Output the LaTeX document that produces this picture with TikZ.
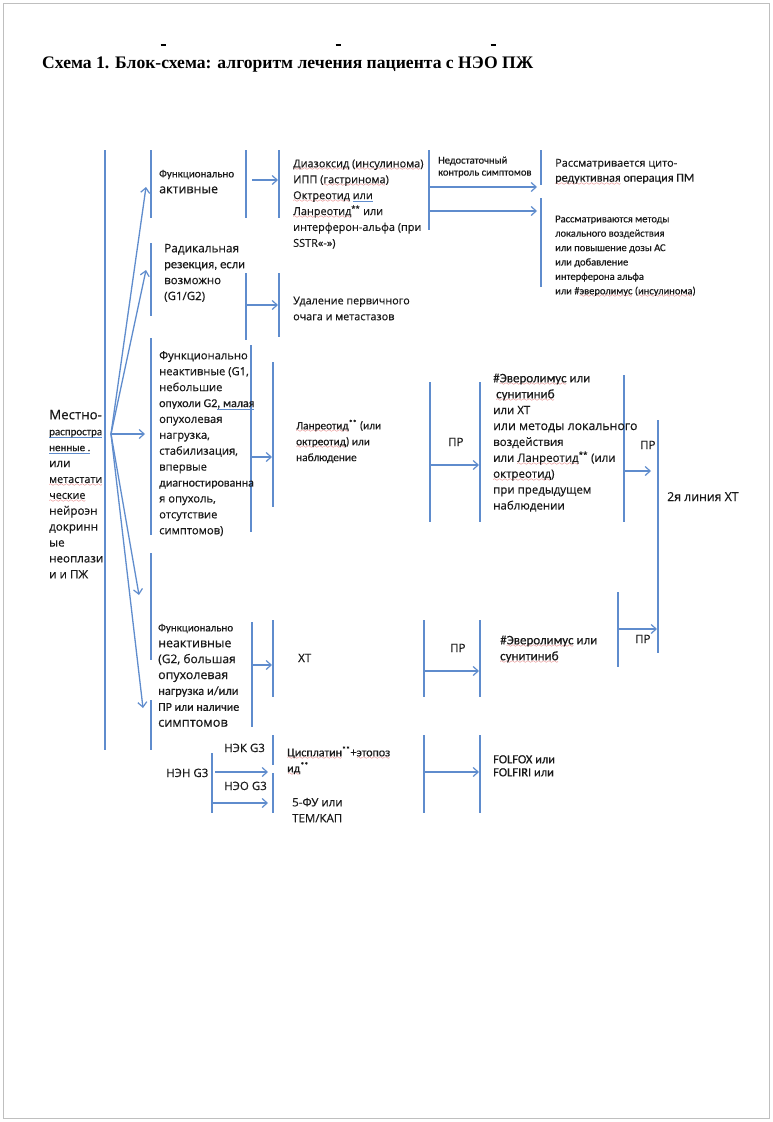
\documentclass[tikz,border=0pt]{standalone}
\usepackage{fontspec}
\setmainfont{Open Sans}[FakeBold=0.35]
\newfontfamily\nf{Carlito}[FakeBold=0.35]
\newfontfamily\titlefont{Liberation Serif}
\usetikzlibrary{arrows.meta}
\definecolor{ln}{RGB}{95,140,205}
\definecolor{tx}{RGB}{25,25,25}
\definecolor{wv}{RGB}{215,40,40}
\font\mywave=lasy6\relax
\newcommand\rw[1]{\leavevmode\setbox0\hbox{#1}\rlap{\raisebox{-3.4pt}{\textcolor{wv}{\hbox to \wd0{\xleaders\hbox{\mywave\char58}\hfill}}}}\box0\relax}
\newcommand\bw[1]{\leavevmode\setbox0\hbox{#1}\rlap{\textcolor{ln}{\rule[-2.6pt]{\wd0}{1pt}}}\box0\relax}
\newcommand\sst{\textsuperscript{**}}
\newcommand\fs[1]{\fontsize{#1}{15.9}\selectfont}
\newcommand\nar[2]{{\nf\fs{#1}#2}}
\begin{document}
\begin{tikzpicture}[x=1pt,y=-1pt,
  bar/.style={draw=ln,line width=1.5pt},
  arr/.style={draw=ln,line width=1.3pt,-{Straight Barb[length=5pt,width=9pt,line width=1.2pt]}},
  txt/.style={anchor=north west,inner sep=0pt,align=left,text=tx,font=\fontsize{11.5}{15.9}\selectfont},
  one/.style={anchor=base west,inner sep=0pt,text=tx,font=\fontsize{11.5}{15.9}\selectfont}]
\useasboundingbox (0,0) rectangle (773,1122);
\fill[white] (0,0) rectangle (773,1122);
\draw[black!25,line width=1pt] (3,3) rectangle (769,1118);

% title
\node[anchor=base west,inner sep=0pt,text=black,font=\titlefont\bfseries\fontsize{17.6}{20}\selectfont] (title) at (42,68) {Схема 1. Блок-схема: алгоритм лечения пациента с НЭО ПЖ};
\foreach \dx in {163,338,493} \draw[black,line width=1.6pt] (\dx-2.5,45) -- (\dx+2.5,45);

% ---------- bars ----------
\draw[bar] (105,150) -- (105,750);
\draw[bar] (151,150) -- (151,218);
\draw[bar] (246,150) -- (246,218);
\draw[bar] (279,150) -- (279,218);
\draw[bar] (151,243) -- (151,316);
\draw[bar] (246,273) -- (246,340);
\draw[bar] (279,273) -- (279,337);
\draw[bar] (429,150) -- (429,230);
\draw[bar] (541,150) -- (541,185);
\draw[bar] (541,198) -- (541,287);
\draw[bar] (151,338) -- (151,535);
\draw[bar] (251,345) -- (251,532);
\draw[bar] (273,362) -- (273,507);
\draw[bar] (430,382) -- (430,522);
\draw[bar] (480,382) -- (480,522);
\draw[bar] (624,375) -- (624,522);
\draw[bar] (658,420) -- (658,653);
\draw[bar] (151,553) -- (151,660);
\draw[bar] (151,700) -- (151,750);
\draw[bar] (252,622) -- (252,727);
\draw[bar] (273,620) -- (273,697);
\draw[bar] (424,620) -- (424,697);
\draw[bar] (480,620) -- (480,697);
\draw[bar] (618,592) -- (618,667);
\draw[bar] (273,735) -- (273,765);
\draw[bar] (212,753) -- (212,813);
\draw[bar] (273,773) -- (273,813);
\draw[bar] (424,735) -- (424,813);
\draw[bar] (480,735) -- (480,813);

% ---------- coordinates ----------
\coordinate (fan) at (111,434);
\coordinate (fa) at (146,187);
\coordinate (rad) at (146,270);
\coordinate (g1) at (145,434);
\coordinate (g2a) at (139,595);
\coordinate (g2b) at (143,708);
\coordinate (fa1) at (252,180);   \coordinate (fa2) at (278,180);
\coordinate (ra1) at (246,305);   \coordinate (ra2) at (278,305);
\coordinate (dz1) at (429,187);   \coordinate (dz2) at (537,187);
\coordinate (dz3) at (429,211);   \coordinate (dz4) at (537,211);
\coordinate (ga1) at (251,457);   \coordinate (ga2) at (272,457);
\coordinate (pa1) at (430,465);   \coordinate (pa2) at (479,465);
\coordinate (pb1) at (624,471);   \coordinate (pb2) at (651,471);
\coordinate (gb1) at (252,665);   \coordinate (gb2) at (272,665);
\coordinate (pc1) at (424,671);   \coordinate (pc2) at (479,671);
\coordinate (pd1) at (618,629);   \coordinate (pd2) at (657,629);
\coordinate (nk1) at (215,772);   \coordinate (nk2) at (268,772);
\coordinate (no1) at (212,803);   \coordinate (no2) at (268,803);
\coordinate (ff1) at (424,772);   \coordinate (ff2) at (479,772);

% ---------- arrows ----------
\draw[arr] (fan) -- (fa);
\draw[arr] (fan) -- (rad);
\draw[arr] (fan) -- (g1);
\draw[arr] (fan) -- (g2a);
\draw[arr] (fan) -- (g2b);
\draw[arr] (fa1) -- (fa2);
\draw[arr] (ra1) -- (ra2);
\draw[arr] (dz1) -- (dz2);
\draw[arr] (dz3) -- (dz4);
\draw[arr] (ga1) -- (ga2);
\draw[arr] (pa1) -- (pa2);
\draw[arr] (pb1) -- (pb2);
\draw[arr] (gb1) -- (gb2);
\draw[arr] (pc1) -- (pc2);
\draw[arr] (pd1) -- (pd2);
\draw[arr] (nk1) -- (nk2);
\draw[arr] (no1) -- (no2);
\draw[arr] (ff1) -- (ff2);

% ---------- texts ----------
\node[txt,font=\fontsize{11.6}{15.9}\selectfont] (loc) at (49,408) {\strut{\fs{13.3}Местно-}\\\nar{11}{\bw{распростра}}\\\nar{11}{\bw{ненные .}}\\или\\{\fs{10.8}\rw{метастати}}\\{\fs{10.8}\rw{ческие}}\\нейроэн\\докринн\\ые\\неоплази\\и и ПЖ};

\node[txt] (factive) at (159,166) {\strut\nar{11}{Функционально}\\{\fs{12.5}активные}};
\node[txt] (radical) at (164,241) {\strut{\fs{11.8}Радикальная}\\\nar{12.6}{резекция, если}\\возможно\\(G1/G2)};
\node[txt,font=\fontsize{10.8}{15.9}\selectfont] (udal) at (293,293) {\strut Удаление первичного\\очага и метастазов};
\node[txt,font=\fontsize{10.9}{15.9}\selectfont] (diaz) at (293,156) {\strut\rw{Диазоксид} (\rw{инсулинома})\\ИПП (\rw{гастринома})\\\rw{Октреотид} \bw{или}\\\rw{Ланреотид}\sst{} или\\интерферон-альфа (при\\SSTR«-»)};
\node[txt,font=\nf\fontsize{10.5}{12}\selectfont] (nedost) at (438,155) {\strut Недостаточный\\контроль симптомов};
\node[txt,font=\fontsize{10.9}{15}\selectfont] (cyto) at (555,156) {\strut Рассматривается цито-\\\nar{12.2}{\rw{редуктивная} операция ПМ}};
\node[txt,font=\nf\fontsize{10.5}{14.4}\selectfont] (meth) at (555,212) {\strut Рассматриваются методы\\локального воздействия\\или повышение дозы АС\\или добавление\\интерферона альфа\\или \#\rw{эверолимус} (\rw{инсулинома})};

\node[txt,font=\fontsize{11.2}{15.9}\selectfont] (g1txt) at (159,348) {\strut Функционально\\неактивные (G1,\\небольшие\\\nar{12}{опухоли G2\bw{, малая}}\\опухолевая\\нагрузка,\\стабилизация,\\впервые\\\nar{12}{диагностированна}\\я опухоль,\\отсутствие\\симптомов)};
\node[txt,font=\nf\fontsize{11.3}{15.9}\selectfont] (lanr) at (296,418) {\strut\rw{Ланреотид}\sst{} (или\\\rw{октреотид}) или\\наблюдение};
\node[one] (pr1) at (448,446) {ПР};
\node[txt] (ever1) at (493,371) {\strut\nar{13}{\#\rw{Эверолимус} или}\\\nar{13}{\hspace*{3pt}\rw{сунитиниб}}\\или ХТ\\{\fs{12.3}или методы локального}\\воздействия\\или \rw{Ланреотид}\sst{} (или\\\rw{октреотид})\\при предыдущем\\наблюдении};
\node[one] (pr2) at (640,449) {ПР};
\node[one,font=\fontsize{12.3}{15.9}\selectfont] (line2) at (667,501) {2я линия ХТ};

\node[txt,font=\fontsize{12.4}{15.9}\selectfont] (g2txt) at (158,620) {\strut\nar{11}{Функционально}\\неактивные\\{\fs{12}(G2, большая}\\опухолевая\\\nar{12.5}{нагрузка и/или}\\\nar{12}{ПР или наличие}\\{\fs{12.8}симптомов}};
\node[one] (xt) at (298,662) {ХТ};
\node[one] (pr3) at (450,652) {ПР};
\node[txt,font=\nf\fontsize{13}{15.9}\selectfont] (ever2) at (500,633) {\strut\#\rw{Эверолимус} или\\\rw{сунитиниб}};
\node[one] (pr4) at (635,643) {ПР};

\node[one] (nek) at (224,752) {НЭК G3};
\node[one] (nen) at (166,777) {НЭН G3};
\node[one] (neo) at (224,790) {НЭО G3};
\node[txt,font=\nf\fontsize{12}{15.9}\selectfont] (cis) at (287,745) {\strut\rw{Цисплатин}\sst{}+\rw{этопоз}\\\rw{ид}\sst};
\node[txt] (fu) at (292,795) {\strut 5-ФУ или\\ТЕМ/КАП};
\node[txt,font=\nf\fontsize{12.5}{13}\selectfont] (folf) at (493,754) {\strut FOLFOX или\\FOLFIRI или};
\end{tikzpicture}
\end{document}
